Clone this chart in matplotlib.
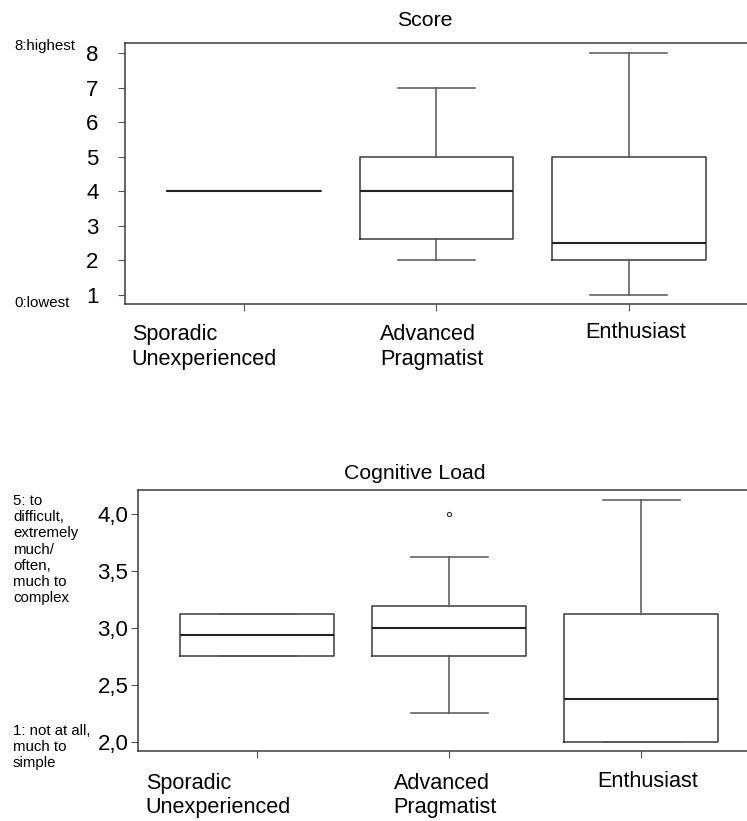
import matplotlib
matplotlib.use("Agg")
import matplotlib.pyplot as plt
import matplotlib.transforms as mtransforms

plt.rcParams['font.family'] = ['Liberation Sans', 'DejaVu Sans']

groups = ["Sporadic\nUnexperienced", "Advanced\nPragmatist", "Enthusiast"]

# Score: whislo, q1, median, q3, whishi
score_lo = [4, 2, 1]
score_q1 = [4, 2.62, 2]
score_med = [4, 4, 2.5]
score_q3 = [4, 5, 5]
score_hi = [4, 7, 8]
score_fliers = [[], [], []]

# Cognitive load
cog_lo = [2.75, 2.25, 2.0]
cog_q1 = [2.75, 2.75, 2.0]
cog_med = [2.94, 3.0, 2.375]
cog_q3 = [3.125, 3.19, 3.125]
cog_hi = [3.125, 3.625, 4.125]
cog_fliers = [[], [4.0], []]

score_ticks = [1, 2, 3, 4, 5, 6, 7, 8]
cog_ticks = [2.0, 2.5, 3.0, 3.5, 4.0]
cog_ticklabels = ["2,0", "2,5", "3,0", "3,5", "4,0"]

W, H = 747, 821
fig = plt.figure(figsize=(W / 100, H / 100), dpi=100)

line_col = '#3a3a3a'


def make_stats(lo, q1, med, q3, hi, fl):
    return [dict(whislo=a, q1=b, med=c, q3=d, whishi=e, fliers=f)
            for a, b, c, d, e, f in zip(lo, q1, med, q3, hi, fl)]


def draw(ax, stats, xlim, ylim, label_y, label_dx, ypad):
    ax.bxp(stats, positions=[1, 2, 3], widths=0.8,
           boxprops=dict(color=line_col, linewidth=1.1),
           whiskerprops=dict(color='#555555', linewidth=1.1),
           capprops=dict(color='#555555', linewidth=1.1),
           medianprops=dict(color='#222222', linewidth=1.5),
           flierprops=dict(marker='o', markersize=3, markerfacecolor='white',
                           markeredgecolor='#333333', markeredgewidth=0.8),
           capwidths=0.4)
    ax.set_xlim(*xlim)
    ax.set_ylim(*ylim)
    ax.spines['right'].set_visible(False)
    for s in ['left', 'top', 'bottom']:
        ax.spines[s].set_color(line_col)
        ax.spines[s].set_linewidth(1.1)
    ax.set_xticks([1, 2, 3])
    ax.set_xticklabels([])
    ax.tick_params(axis='both', direction='out', length=5, width=0.8,
                   color='#555555', labelsize=16)
    ax.tick_params(axis='y', pad=ypad)
    trans = mtransforms.blended_transform_factory(ax.transData, ax.transAxes)
    for i, g in enumerate(groups):
        ax.text(i + 1 + label_dx[i], label_y[i], g, transform=trans,
                ha='left', va='top', fontsize=15.6, linespacing=1.2)


# top panel: Score
ax1 = fig.add_axes([125 / W, 1 - 304 / H, 622 / W, 261 / H])
draw(ax1, make_stats(score_lo, score_q1, score_med, score_q3, score_hi, score_fliers),
     (0.38, 3.615), (0.74, 8.29), [-0.078, -0.078, -0.07], [-0.585, -0.295, -0.225], 14)
ax1.set_yticks(score_ticks)
ax1.set_title("Score", fontsize=15.3, pad=12, x=(425 - 125) / 622)

# bottom panel: Cognitive Load
ax2 = fig.add_axes([138 / W, 1 - 751 / H, 609 / W, 261 / H])
draw(ax2, make_stats(cog_lo, cog_q1, cog_med, cog_q3, cog_hi, cog_fliers),
     (0.38, 3.55), (1.918, 4.21), [-0.085, -0.085, -0.078], [-0.58, -0.29, -0.23], 2)
ax2.set_yticks(cog_ticks)
ax2.set_yticklabels(cog_ticklabels)
ax2.set_title("Cognitive Load", fontsize=15.3, pad=8, x=(415 - 138) / 609)

# scale anchor notes
fig.text(14 / W, 1 - 46 / H, "8:highest", fontsize=10.8, va='center', ha='left')
fig.text(14 / W, 1 - 303 / H, "0:lowest", fontsize=10.8, va='center', ha='left')
fig.text(13 / W, 1 - 494 / H,
         "5: to\ndifficult,\nextremely\nmuch/\noften,\nmuch to\ncomplex",
         fontsize=10.8, va='top', ha='left', linespacing=1.2)
fig.text(13 / W, 1 - 724 / H, "1: not at all,\nmuch to\nsimple",
         fontsize=10.8, va='top', ha='left', linespacing=1.2)

fig.savefig("out.png", dpi=100)
